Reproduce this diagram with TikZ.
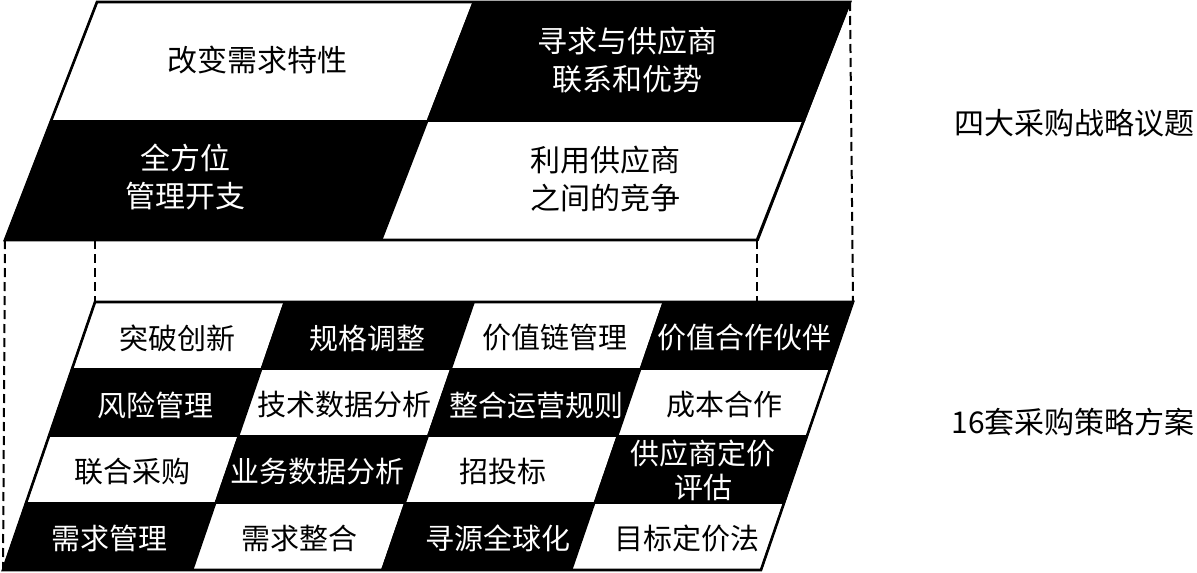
\documentclass[tikz,border=0pt]{standalone}
\usepackage{fontspec}
\newfontfamily\cjk{Noto Sans CJK SC}
\usetikzlibrary{calc}
\begin{document}
\begin{tikzpicture}[x=1pt,y=-1pt,
  cell/.style={line width=1.8pt, draw=black, line join=miter},
  outline/.style={line width=2.6pt, draw=black, line join=miter},
  dashline/.style={line width=2pt, dash pattern=on 9pt off 5pt},
  toplab/.style={font=\cjk\fontsize{30}{38}\selectfont, align=center, inner sep=0pt},
  gridlab/.style={font=\cjk\fontsize{29}{34}\selectfont, align=center, inner sep=0pt},
  sidelab/.style={font=\cjk\fontsize{30}{36}\selectfont, inner sep=0pt, anchor=east},
  onwhite/.style={text=black},
  onblack/.style={text=white}]
\useasboundingbox (0,0) rectangle (1197,573);

% corner coordinates
\coordinate (tTL) at (97,2);
\coordinate (tTR) at (850,2);
\coordinate (tBR) at (757,240);
\coordinate (tBL) at (5,240);
\coordinate (tB2) at (95,240);
\coordinate (gTL) at (95,302);
\coordinate (gTR) at (853,302);
\coordinate (gBR) at (761,570);
\coordinate (gBL) at (3,570);
\coordinate (gT2) at (757,302);

% top four cells
\foreach \c in {0,1}{
  \foreach \r in {0,1}{
    \pgfmathsetmacro\xa{97+376.5*\c-46*\r}
    \pgfmathsetmacro\ya{2+119*\r}
    \pgfmathtruncatemacro\odd{mod(\c+\r,2)}
    \ifnum\odd=1 \def\fc{black}\else\def\fc{white}\fi
    \draw[cell, fill=\fc] (\xa,\ya) -- ++(376.5,0) -- ++(-46,119) -- ++(-376.5,0) -- cycle;
  }
}
\draw[outline] (tTL) -- (tTR) -- (tBR) -- (tBL) -- cycle;

% sixteen cells
\foreach \c in {0,1,2,3}{
  \foreach \r in {0,1,2,3}{
    \pgfmathsetmacro\xa{95+189.5*\c-23*\r}
    \pgfmathsetmacro\ya{302+67*\r}
    \pgfmathtruncatemacro\odd{mod(\c+\r,2)}
    \ifnum\odd=1 \def\fc{black}\else\def\fc{white}\fi
    \draw[cell, fill=\fc] (\xa,\ya) -- ++(189.5,0) -- ++(-23,67) -- ++(-189.5,0) -- cycle;
  }
}
\draw[outline] (gTL) -- (gTR) -- (gBR) -- (gBL) -- cycle;

% dashed guides
\draw[dashline] (tBL) -- (gBL);
\draw[dashline] (tB2) -- (gTL);
\draw[dashline] (tBR) -- (gT2);
\draw[dashline] (tTR) -- (gTR);

% top labels
\node[toplab, onwhite] (t1) at (257,60) {改变需求特性};
\node[toplab, onblack] (t2) at (627,60) {寻求与供应商\\联系和优势};
\node[toplab, onblack] (t3) at (185,177) {全方位\\管理开支};
\node[toplab, onwhite] (t4) at (605,179) {利用供应商\\之间的竞争};

% grid labels
\node[gridlab, onwhite] (g11) at (177,338) {突破创新};
\node[gridlab, onblack] (g12) at (367,338) {规格调整};
\node[gridlab, onwhite] (g13) at (555,338) {价值链管理};
\node[gridlab, onblack] (g14) at (744,338) {价值合作伙伴};
\node[gridlab, onblack] (g21) at (155,405) {风险管理};
\node[gridlab, onwhite] (g22) at (344,405) {技术数据分析};
\node[gridlab, onblack] (g23) at (536,405) {整合运营规则};
\node[gridlab, onwhite] (g24) at (724,405) {成本合作};
\node[gridlab, onwhite] (g31) at (132,472) {联合采购};
\node[gridlab, onblack] (g32) at (317,472) {业务数据分析};
\node[gridlab, onwhite] (g33) at (503,472) {招投标};
\node[gridlab, onblack] (g34) at (703,470) {供应商定价\\评估};
\node[gridlab, onblack] (g41) at (109,538) {需求管理};
\node[gridlab, onwhite] (g42) at (299,538) {需求整合};
\node[gridlab, onblack] (g43) at (498,538) {寻源全球化};
\node[gridlab, onwhite] (g44) at (687,538) {目标定价法};

% side labels
\node[sidelab] (s1) at (1195,123) {四大采购战略议题};
\node[sidelab] (s2) at (1195,422) {16套采购策略方案};
\end{tikzpicture}
\end{document}
